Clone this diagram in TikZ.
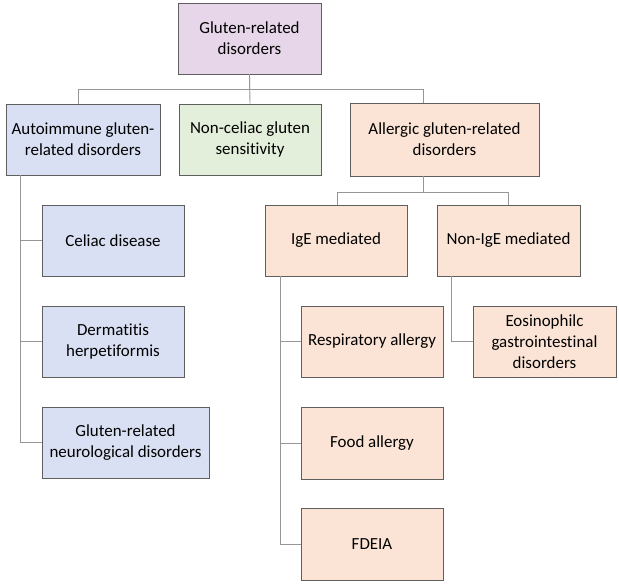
\documentclass[tikz,border=0pt]{standalone}
\usepackage{fontspec}
\setmainfont[Ligatures=NoCommon]{Carlito}
\usepackage{tikz}
\definecolor{topfill}{RGB}{231,214,233}
\definecolor{autofill}{RGB}{218,224,243}
\definecolor{ncgsfill}{RGB}{227,239,219}
\definecolor{allfill}{RGB}{251,228,214}
\definecolor{boxline}{RGB}{95,95,95}
\definecolor{linkline}{RGB}{150,150,150}
\begin{document}
\begin{tikzpicture}[x=1bp,y=-1bp,font=\fontsize{17}{21}\selectfont,
  box/.style={draw=boxline,line width=0.9bp,inner sep=0pt,minimum height=71bp,align=center},
  link/.style={draw=linkline,line width=0.9bp}]
\useasboundingbox (0,0) rectangle (619,584);
% top level
\node[box,fill=topfill,minimum width=143bp] (grd) at (249.5,38.5) {Gluten-related\\disorders};
% second level
\node[box,fill=autofill,minimum width=154bp] (auto) at (83,139.5) {Autoimmune gluten-\\related disorders};
\node[box,fill=ncgsfill,minimum width=142bp] (ncgs) at (250,139.5) {Non-celiac gluten\\sensitivity};
\node[box,fill=allfill,minimum width=189bp,minimum height=73bp] (allergic) at (444.5,139.5) {Allergic gluten-related\\disorders};
% autoimmune column
\node[box,fill=autofill,minimum width=142bp] (celiac) at (113,240.5) {Celiac disease};
\node[box,fill=autofill,minimum width=142bp] (derm) at (113,341.5) {Dermatitis\\herpetiformis};
\node[box,fill=autofill,minimum width=167bp] (neuro) at (125.5,442.5) {Gluten-related\\neurological disorders};
% allergic branch
\node[box,fill=allfill,minimum width=142bp] (ige) at (336,240.5) {IgE mediated};
\node[box,fill=allfill,minimum width=143bp] (nonige) at (508.5,240.5) {Non-IgE mediated};
\node[box,fill=allfill,minimum width=142bp] (resp) at (372,341.5) {Respiratory allergy};
\node[box,fill=allfill,minimum width=142bp,minimum height=72bp] (food) at (372,443) {Food allergy};
\node[box,fill=allfill,minimum width=142bp,minimum height=72bp] (fdeia) at (372,544) {FDEIA};
\node[box,fill=allfill,minimum width=143bp] (eos) at (544.5,341.5) {Eosinophilc\\gastrointestinal\\disorders};
% connectors
\draw[link] (grd.south) -- ++(0,15) -| ([xshift=-5bp]auto.north);
\draw[link] (grd.south) -- (ncgs.north);
\draw[link] (grd.south) -- ++(0,15) -| ([xshift=-21.5bp]allergic.north);
\draw[link] ([xshift=-21.5bp]allergic.south) -- ++(0,16) -| ([xshift=1bp]ige.north);
\draw[link] ([xshift=-21.5bp]allergic.south) -- ++(0,16) -| (nonige.north);
\draw[link] ([xshift=15bp]auto.south west) |- (celiac.west);
\draw[link] ([xshift=15bp]auto.south west) |- (derm.west);
\draw[link] ([xshift=15bp]auto.south west) |- (neuro.west);
\draw[link] ([xshift=16bp]ige.south west) |- (resp.west);
\draw[link] ([xshift=16bp]ige.south west) |- (food.west);
\draw[link] ([xshift=16bp]ige.south west) |- (fdeia.west);
\draw[link] ([xshift=15bp]nonige.south west) |- (eos.west);
\end{tikzpicture}
\end{document}
